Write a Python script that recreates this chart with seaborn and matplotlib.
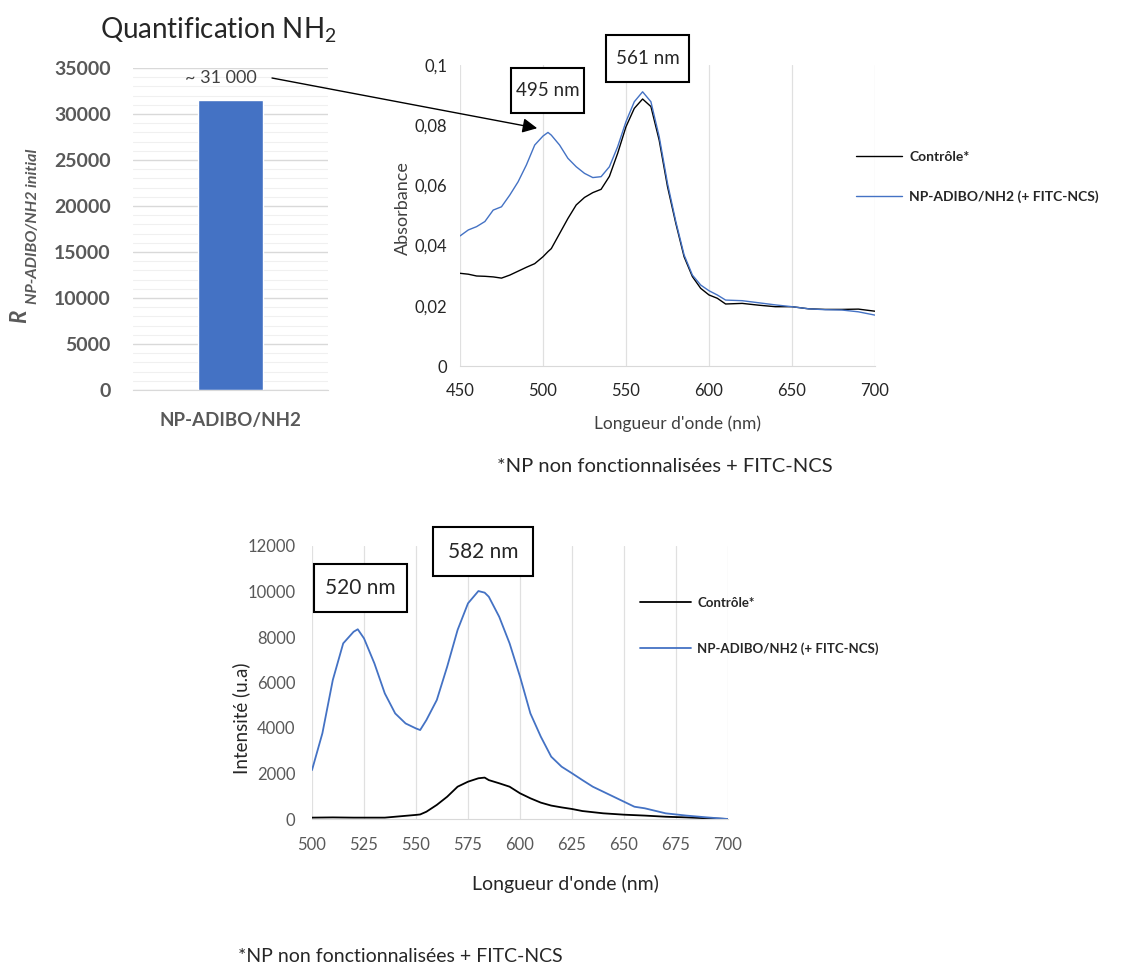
import numpy as np
import pandas as pd
import matplotlib
matplotlib.use("Agg")
import matplotlib.pyplot as plt
from matplotlib.patches import Rectangle
from matplotlib.ticker import MultipleLocator
import seaborn as sns

# --- DATA ---
bar_categories = ["NP-ADIBO/NH2"]
bar_values = [31500]

abs_wavelength = [450, 455, 460, 465, 470, 475, 480, 485, 490, 495, 500, 503, 505, 510,
                  515, 520, 525, 530, 535, 540, 545, 550, 555, 560, 565, 570, 575, 580,
                  585, 590, 595, 600, 605, 610, 620, 630, 640, 650, 660, 670, 680, 690, 700]
abs_control = [0.0308, 0.0305, 0.0299, 0.0298, 0.0296, 0.0292, 0.0302, 0.0315, 0.0328,
               0.0340, 0.0363, 0.0380, 0.0390, 0.0440, 0.0490, 0.0535, 0.0560, 0.0576,
               0.0587, 0.0630, 0.0707, 0.0795, 0.0856, 0.0887, 0.0862, 0.0750, 0.0596,
               0.0474, 0.0363, 0.0297, 0.0258, 0.0236, 0.0225, 0.0206, 0.0208, 0.0202,
               0.0197, 0.0197, 0.0190, 0.0188, 0.0188, 0.0189, 0.0182]
abs_sample = [0.0432, 0.0452, 0.0463, 0.0480, 0.0518, 0.0529, 0.0568, 0.0612, 0.0668,
              0.0734, 0.0764, 0.0776, 0.0767, 0.0734, 0.0690, 0.0662, 0.0640, 0.0626,
              0.0629, 0.0662, 0.0729, 0.0812, 0.0878, 0.0911, 0.0878, 0.0762, 0.0607,
              0.0480, 0.0369, 0.0302, 0.0269, 0.0250, 0.0236, 0.0219, 0.0217, 0.0210,
              0.0203, 0.0197, 0.0190, 0.0187, 0.0186, 0.0180, 0.0169]

fl_wavelength = [500, 505, 510, 515, 520, 522, 525, 530, 535, 540, 545, 550, 552, 555,
                 560, 565, 570, 575, 580, 583, 585, 590, 595, 600, 605, 610, 615, 620,
                 625, 630, 635, 640, 645, 650, 655, 660, 670, 680, 690, 700]
fl_control = [60, 65, 70, 65, 60, 60, 60, 60, 60, 100, 140, 180, 200, 320, 620, 980, 1420,
              1640, 1790, 1820, 1710, 1570, 1420, 1130, 910, 720, 590, 510, 440, 350, 300,
              250, 220, 190, 170, 150, 100, 70, 30, 0]
fl_sample = [2150, 3770, 6110, 7720, 8230, 8340, 7940, 6840, 5520, 4640, 4200, 3980, 3910,
             4350, 5230, 6700, 8310, 9480, 10020, 9950, 9770, 8890, 7720, 6260, 4640, 3620,
             2740, 2300, 2010, 1710, 1420, 1200, 980, 760, 540, 470, 250, 150, 70, 0]

series_names = ["Contrôle*", "NP-ADIBO/NH2 (+ FITC-NCS)"]
footnote = "*NP non fonctionnalisées + FITC-NCS"

# --- STYLE ---
BLUE = "#4472C4"
GREY = "#595959"
GRID = "#D9D9D9"
W, H = 1122, 967

sns.set_style("white")
plt.rcParams["font.family"] = ["Lato", "DejaVu Sans"]
plt.rcParams["mathtext.fontset"] = "custom"
plt.rcParams["mathtext.rm"] = "Lato"
plt.rcParams["mathtext.it"] = "Lato:italic"

fig = plt.figure(figsize=(W / 100, H / 100), dpi=100)


def px_axes(left, top, right, bottom):
    return fig.add_axes([left / W, 1 - bottom / H, (right - left) / W, (bottom - top) / H])


def box_label(text, x0, y0, x1, y1, size):
    fig.add_artist(Rectangle((x0 / W, 1 - y1 / H), (x1 - x0) / W, (y1 - y0) / H,
                             transform=fig.transFigure, facecolor="white",
                             edgecolor="black", linewidth=1.5, zorder=5))
    fig.text((x0 + x1) / 2 / W, 1 - (y0 + y1) / 2 / H, text, ha="center", va="center",
             fontsize=size, zorder=6)


def clean(ax):
    for s in ["left", "right", "top"]:
        ax.spines[s].set_visible(False)
    ax.spines["bottom"].set_color(GRID)
    ax.tick_params(length=0, which="both")
    ax.set_axisbelow(True)


# --- BAR CHART ---
ax1 = px_axes(133, 68, 328, 390)
sns.barplot(x=bar_categories, y=bar_values, color=BLUE, width=0.333, saturation=1, ax=ax1)
ax1.set_xlim(-0.5, 0.5)
ax1.set_ylim(0, 35000)
ax1.set_yticks(range(0, 35001, 5000))
ax1.yaxis.set_minor_locator(MultipleLocator(1000))
ax1.grid(axis="y", which="major", color=GRID, linewidth=1)
ax1.grid(axis="y", which="minor", color="#F0F0F0", linewidth=0.8)
clean(ax1)
ax1.tick_params(axis="y", pad=16, labelsize=14, labelcolor=GREY)
ax1.tick_params(axis="x", pad=16, labelsize=13.5, labelcolor=GREY)
for lab in ax1.get_yticklabels() + ax1.get_xticklabels():
    lab.set_fontweight("bold")
ax1.set_ylabel("")
ax1.text(-0.05, 33900, "~ 31 000", ha="center", va="center", fontsize=13, color="#404040")

fig.text(218 / W, 1 - 30 / H, "Quantification NH$_2$", ha="center", va="center", fontsize=20)
fig.text(20 / W, 1 - 316 / H, "R", rotation=90, ha="center", va="center", fontsize=16,
         fontweight="bold", style="italic", color=GREY)
fig.text(33 / W, 1 - 304 / H, "NP-ADIBO/NH2 initial", rotation=90, ha="center",
         va="bottom", fontsize=11.5, fontweight="bold", style="italic", color=GREY)

# --- ABSORBANCE ---
df_abs = pd.DataFrame({
    "wl": abs_wavelength * 2,
    "val": abs_control + abs_sample,
    "serie": [series_names[0]] * len(abs_wavelength) + [series_names[1]] * len(abs_wavelength),
})
ax2 = px_axes(460, 65, 875, 366)
sns.lineplot(data=df_abs, x="wl", y="val", hue="serie",
             palette={series_names[0]: "black", series_names[1]: BLUE},
             linewidth=1.0, ax=ax2)
ax2.set_xlim(450, 700)
ax2.set_ylim(0, 0.1)
ax2.set_xticks(range(450, 701, 50))
ax2.set_yticks([0, 0.02, 0.04, 0.06, 0.08, 0.1])
ax2.set_yticklabels(["0", "0,02", "0,04", "0,06", "0,08", "0,1"])
ax2.grid(axis="x", color="#E0E0E0", linewidth=0.9)
clean(ax2)
ax2.tick_params(axis="y", pad=9, labelsize=12, labelcolor="#262626")
ax2.tick_params(axis="x", pad=12, labelsize=12, labelcolor="#262626")
ax2.set_xlabel("Longueur d'onde (nm)", fontsize=12.5, color="#404040")
ax2.set_ylabel("Absorbance", fontsize=13, color="#404040")
ax2.xaxis.set_label_coords(0.523, -0.165)
ax2.yaxis.set_label_coords(-0.118, 0.525)
ax2.legend(loc="upper left", bbox_to_anchor=(0.954, 0.714), frameon=False, borderpad=0,
           borderaxespad=0, handlelength=3.3, handletextpad=0.55, labelspacing=1.95,
           prop={"size": 10, "weight": "bold"})

ax2.annotate("", xy=(496.5, 0.0790), xycoords="data", xytext=(272, H - 78),
             textcoords="figure pixels",
             arrowprops=dict(arrowstyle="-|>", color="black", lw=1.0,
                             mutation_scale=22, shrinkA=0, shrinkB=0))
box_label("495 nm", 511, 68, 584, 113, 13.5)
box_label("561 nm", 606, 35, 689, 82, 13.5)
fig.text(665 / W, 1 - 467 / H, footnote, ha="center", va="center", fontsize=14.5)

# --- FLUORESCENCE ---
df_fl = pd.DataFrame({
    "wl": fl_wavelength * 2,
    "val": fl_control + fl_sample,
    "serie": [series_names[0]] * len(fl_wavelength) + [series_names[1]] * len(fl_wavelength),
})
ax3 = px_axes(312, 546, 728, 819)
sns.lineplot(data=df_fl, x="wl", y="val", hue="serie",
             palette={series_names[0]: "black", series_names[1]: BLUE},
             linewidth=1.3, ax=ax3)
ax3.set_xlim(500, 700)
ax3.set_ylim(0, 12000)
ax3.set_xticks(range(500, 701, 25))
ax3.set_yticks(range(0, 12001, 2000))
ax3.grid(axis="x", color="#E0E0E0", linewidth=0.9)
clean(ax3)
ax3.tick_params(axis="y", pad=12, labelsize=12, labelcolor=GREY)
ax3.tick_params(axis="x", pad=13, labelsize=12, labelcolor=GREY)
ax3.set_xlabel("Longueur d'onde (nm)", fontsize=14, color="#262626")
ax3.set_ylabel("Intensité (u.a)", fontsize=13.5, color="#262626")
ax3.xaxis.set_label_coords(0.61, -0.205)
ax3.yaxis.set_label_coords(-0.149, 0.37)
ax3.legend(loc="upper left", bbox_to_anchor=(0.788, 0.813), frameon=False, borderpad=0,
           borderaxespad=0, handlelength=3.9, handletextpad=0.45, labelspacing=2.5,
           prop={"size": 9.5, "weight": "bold"})

box_label("520 nm", 314, 564, 407, 612, 15)
box_label("582 nm", 433, 527, 533, 576, 15)
fig.text(238 / W, 1 - 957 / H, footnote, ha="left", va="center", fontsize=14)

fig.savefig("out.png", dpi=100)
